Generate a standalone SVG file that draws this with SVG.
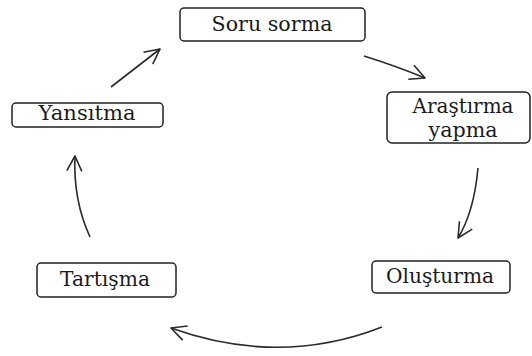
<svg xmlns="http://www.w3.org/2000/svg" width="532" height="356" viewBox="0 0 532 356">
<style>
.box{fill:#fff;stroke:#222;stroke-width:1.5}
.t{font-family:'DejaVu Serif','Liberation Serif',serif;font-size:20px;fill:#1a1a1a;text-anchor:middle}
.c{fill:none;stroke:#2a2a2a;stroke-width:1.6}
</style>
<defs>
<marker id="ah" viewBox="0 0 18 18" refX="17" refY="9" markerWidth="18" markerHeight="18" markerUnits="userSpaceOnUse" orient="auto">
<path d="M2,1.5 L17,9 L2,16.5" fill="none" stroke="#2a2a2a" stroke-width="1.6" stroke-linejoin="round"/>
</marker>
</defs>
<rect width="532" height="356" fill="#fff"/>
<g id="connectors">
<path class="c" marker-end="url(#ah)" d="M111,87 L160,49"/>
<path class="c" marker-end="url(#ah)" d="M364,56 Q396,66 425,78"/>
<path class="c" marker-end="url(#ah)" d="M478,168 Q474,212 458,238"/>
<path class="c" marker-end="url(#ah)" d="M382,327 Q280,367 171,328"/>
<path class="c" marker-end="url(#ah)" d="M90,237 Q73,200 75,156"/>
</g>
<g id="soru">
<rect class="box" x="180" y="8" width="185" height="33" rx="4"/>
<text class="t" x="272" y="31" textLength="121" lengthAdjust="spacingAndGlyphs">Soru sorma</text>
</g>
<g id="arastirma">
<rect class="box" x="387" y="92" width="143" height="51" rx="5"/>
<text class="t" x="463" y="113" textLength="101" lengthAdjust="spacingAndGlyphs">Araştırma</text>
<text class="t" x="463" y="137" textLength="69" lengthAdjust="spacingAndGlyphs">yapma</text>
</g>
<g id="olusturma">
<rect class="box" x="372" y="261" width="138" height="32" rx="4"/>
<text class="t" x="440" y="283" textLength="108" lengthAdjust="spacingAndGlyphs">Oluşturma</text>
</g>
<g id="tartisma">
<rect class="box" x="37" y="263" width="139" height="34" rx="4"/>
<text class="t" x="105" y="286" textLength="90" lengthAdjust="spacingAndGlyphs">Tartışma</text>
</g>
<g id="yansitma">
<rect class="box" x="12" y="103" width="151" height="24" rx="4"/>
<text class="t" x="87" y="120" textLength="97" lengthAdjust="spacingAndGlyphs">Yansıtma</text>
</g>
</svg>
